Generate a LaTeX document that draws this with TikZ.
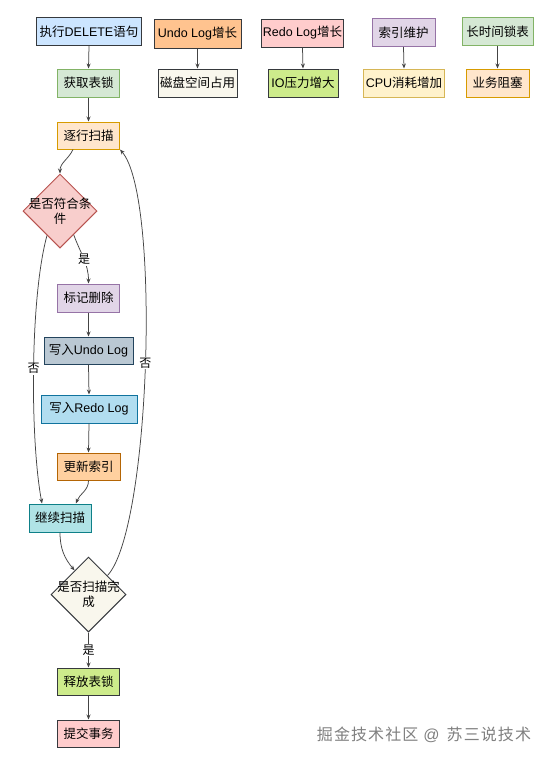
\documentclass[tikz,border=0pt]{standalone}
\usepackage{fontspec}
\setmainfont{Noto Sans CJK SC}
\newfontfamily\lat{Liberation Sans}
\usetikzlibrary{shapes.geometric,arrows.meta}
\definecolor{sDark}{HTML}{36393D}
\definecolor{cDel}{HTML}{CCE5FF}
\definecolor{cUndo}{HTML}{FFC38F}
\definecolor{cPink}{HTML}{FFCCCC}
\definecolor{cPurp}{HTML}{E1D5E7}\definecolor{sPurp}{HTML}{9673A6}
\definecolor{cGreen}{HTML}{D5E8D4}\definecolor{sGreen}{HTML}{82B366}
\definecolor{cCream}{HTML}{F9F7ED}
\definecolor{cLime}{HTML}{CDEB8B}
\definecolor{cYel}{HTML}{FFF2CC}\definecolor{sYel}{HTML}{D6B656}
\definecolor{cOra}{HTML}{FFE6CC}\definecolor{sOra}{HTML}{D79B00}
\definecolor{cRed}{HTML}{F8CECC}\definecolor{sRed}{HTML}{B85450}
\definecolor{cSlate}{HTML}{BAC8D3}\definecolor{sSlate}{HTML}{23445D}
\definecolor{cSky}{HTML}{B1DDF0}\definecolor{sSky}{HTML}{10739E}
\definecolor{cUpd}{HTML}{FFD09F}\definecolor{sUpd}{HTML}{B46504}
\definecolor{cTeal}{HTML}{B0E3E6}\definecolor{sTeal}{HTML}{0E8088}
\definecolor{cEdge}{HTML}{444444}
\definecolor{cWm}{HTML}{808080}
\newcommand\wmk{\kern1.1pt}
\tikzset{
  box/.style={rectangle, line width=1pt, inner sep=0pt, minimum height=28pt,
    font=\fontsize{12.5pt}{15pt}\selectfont, text=black},
  dia/.style={diamond, line width=1pt, inner sep=0pt, minimum width=74pt, minimum height=74pt,
    align=center, font=\fontsize{12.5pt}{15pt}\selectfont},
  arr/.style={draw=cEdge, line width=0.75pt, -{Stealth[length=5pt,width=4pt]}},
  lbl/.style={fill=white, inner sep=1pt, font=\fontsize{12pt}{14pt}\selectfont}
}
\begin{document}
\begin{tikzpicture}[x=1pt,y=1pt]
\fill[white] (0,0) rectangle (549,-763);
\useasboundingbox (0,0) rectangle (549,-763);
% top row
\node[box, fill=cDel, draw=sDark, minimum width=105pt] (del) at (89,-31.5) {执行{\lat DELETE}语句};
\node[box, fill=cUndo, draw=sDark, minimum width=87pt, minimum height=29pt] (undo) at (197.5,-33.5) {{\lat Undo Log}增长};
\node[box, fill=cPink, draw=sDark, minimum width=82pt] (redo) at (302.5,-33) {{\lat Redo Log}增长};
\node[box, fill=cPurp, draw=sPurp, minimum width=63pt] (idx) at (403.5,-32.5) {索引维护};
\node[box, fill=cGreen, draw=sGreen, minimum width=71pt] (lock) at (497.5,-31.5) {长时间锁表};
% second row
\node[box, fill=cGreen, draw=sGreen, minimum width=62pt] (acq) at (88.5,-83) {获取表锁};
\node[box, fill=cCream, draw=sDark, minimum width=79pt] (disk) at (197.5,-83) {磁盘空间占用};
\node[box, fill=cLime, draw=sDark, minimum width=70pt] (io) at (303,-83) {{\lat IO}压力增大};
\node[box, fill=cYel, draw=sYel, minimum width=81pt] (cpu) at (404,-83) {{\lat CPU}消耗增加};
\node[box, fill=cOra, draw=sOra, minimum width=63pt] (blk) at (497.5,-83) {业务阻塞};
% flow
\node[box, fill=cOra, draw=sOra, minimum width=62pt, minimum height=27pt] (scan) at (88.5,-135.5) {逐行扫描};
\node[dia, fill=cRed, draw=sRed] (d1) at (60,-211) {\makebox[0pt]{是否符合条}\\\makebox[0pt]{件}};
\node[box, fill=cPurp, draw=sPurp, minimum width=62pt] (mark) at (88.5,-298) {标记删除};
\node[box, fill=cSlate, draw=sSlate, minimum width=89pt, minimum height=27pt] (wundo) at (88.5,-350.5) {写入{\lat Undo Log}};
\node[box, fill=cSky, draw=sSky, minimum width=96pt] (wredo) at (89,-409) {写入{\lat Redo Log}};
\node[box, fill=cUpd, draw=sUpd, minimum width=63pt, minimum height=27pt] (upd) at (88.5,-466.5) {更新索引};
\node[box, fill=cTeal, draw=sTeal, minimum width=62pt] (cont) at (60,-518) {继续扫描};
\node[dia, fill=cCream, draw=sDark, minimum width=75pt, minimum height=75pt] (d2) at (88.5,-594.5) {\makebox[0pt]{是否扫描完}\\\makebox[0pt]{成}};
\node[box, fill=cLime, draw=sDark, minimum width=62pt, minimum height=27pt] (rel) at (88.5,-681.5) {释放表锁};
\node[box, fill=cPink, draw=sDark, minimum width=62pt, minimum height=27pt] (com) at (88.5,-733.5) {提交事务};
% watermark
\node[text=cWm, font=\fontsize{16pt}{18pt}\selectfont, inner sep=0pt] (wm) at (424,-735)
  {掘\wmk 金\wmk 技\wmk 术\wmk 社\wmk 区\hspace{5pt}{\lat @}\hspace{7pt}苏\wmk 三\wmk 说\wmk 技\wmk 术};
% edges top
\draw[arr] (del.south) -- (acq.north);
\draw[arr] (undo.south) -- (disk.north);
\draw[arr] (redo.south) -- (io.north);
\draw[arr] (idx.south) -- (cpu.north);
\draw[arr] (lock.south) -- (blk.north);
% flow edges
\draw[arr] (acq.south) -- (scan.north);
\draw[arr] ([xshift=-15.5pt]scan.south) to[out=-115,in=90] (d1.north);
\draw[arr] (d1.-60) to[out=-70,in=90] node[lbl, pos=0.52] {是} (mark.north);
\draw[arr] (d1.-118) .. controls +(-17,-62) and +(-12,64) .. node[lbl] {否} ([xshift=-18pt]cont.north);
\draw[arr] (mark.south) -- (wundo.north);
\draw[arr] (wundo.south) -- (wredo.north);
\draw[arr] (wredo.south) -- (upd.north);
\draw[arr] (upd.south) to[out=-90,in=70] ([xshift=16pt]cont.north);
\draw[arr] (cont.south) to[out=-90,in=130] (d2.120);
\draw[arr] (d2.45) .. controls +(43,46) and +(41,-47) .. node[lbl] {否} (scan.south east);
\draw[arr] (d2.south) -- node[lbl] {是} (rel.north);
\draw[arr] (rel.south) -- (com.north);
\end{tikzpicture}
\end{document}
